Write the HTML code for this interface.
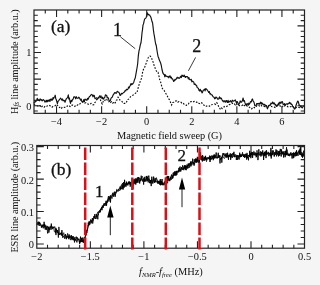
<!DOCTYPE html><html><head><meta charset="utf-8"><style>
html,body{margin:0;padding:0;background:#f5f5f5;width:320px;height:285px;overflow:hidden}
svg{display:block;filter:blur(0.3px)}
text{font-family:"Liberation Serif",serif;fill:#111}
</style></head><body>
<svg width="320" height="285" viewBox="0 0 320 285">
<rect x="34.0" y="10.0" width="270.5" height="103.35" fill="#fff"/>
<rect x="36.8" y="145.5" width="267.7" height="102.69999999999999" fill="#fff"/>

<polyline points="34.0,104.2 35.0,105.1 36.0,105.1 37.0,105.8 38.0,106.2 39.0,105.5 40.0,105.7 41.0,107.5 42.1,106.3 43.2,106.1 44.2,107.2 45.3,106.1 46.4,106.6 47.5,105.8 48.6,106.2 49.8,105.5 50.9,106.6 52.0,107.2 53.1,106.2 54.2,106.2 55.2,105.7 56.3,104.3 57.4,105.2 58.5,106.5 59.5,107.6 60.5,106.9 61.5,108.2 62.4,107.2 63.4,107.4 64.4,107.5 65.4,106.9 66.3,107.0 67.3,105.9 68.3,106.3 69.2,105.7 70.1,106.6 71.0,106.5 72.0,105.1 72.9,105.1 73.8,105.3 74.9,106.4 76.0,105.2 77.0,105.4 78.1,104.6 79.2,104.7 80.3,103.4 81.4,102.2 82.5,101.6 83.6,102.0 84.8,102.9 85.9,102.9 87.0,103.8 88.0,104.0 89.0,104.6 90.0,104.3 91.0,103.4 91.9,104.6 92.8,104.8 93.8,104.7 94.7,102.8 95.6,101.8 96.6,99.6 97.5,99.4 98.4,97.6 99.4,98.5 100.3,99.5 101.2,102.3 102.2,104.0 103.2,101.4 104.1,101.8 105.0,100.2 106.0,98.8 106.9,99.6 107.8,101.0 108.8,101.8 109.7,100.8 110.6,102.4 111.5,101.6 112.5,103.0 113.5,102.6 114.4,103.8 115.3,102.6 116.2,100.3 117.2,99.8 118.1,97.2 119.1,98.0 120.0,100.2 121.0,100.5 121.9,101.4 122.8,102.5 123.8,103.5 124.7,103.4 125.7,101.8 126.6,101.9 127.5,99.5 128.5,99.3 129.4,98.5 130.4,96.8 131.3,96.1 132.3,95.5 133.2,95.0 134.1,94.2 135.1,93.4 136.1,92.8 137.0,92.7 137.9,88.8 138.8,85.5 139.7,82.9 140.7,80.0 141.7,78.0 142.7,71.4 143.6,69.1 144.5,67.8 145.4,65.4 146.4,62.7 147.5,59.6 148.4,57.4 149.2,57.2 150.1,56.0 151.1,56.9 152.2,59.7 153.3,62.6 154.3,66.2 155.4,68.7 156.3,70.8 157.1,72.2 158.0,72.3 158.8,75.3 159.6,79.3 160.5,81.8 161.2,84.0 162.0,87.8 163.1,89.5 164.2,90.5 165.2,92.4 166.3,94.2 167.3,96.1 168.4,98.4 169.5,99.9 170.5,102.2 171.6,105.0 172.6,102.5 173.7,102.3 174.7,101.4 175.8,100.9 176.8,101.0 177.8,102.2 178.9,101.5 179.9,101.6 181.0,102.3 182.1,103.5 183.2,103.2 184.2,104.4 185.3,105.2 186.4,105.4 187.4,104.0 188.4,104.0 189.5,102.1 190.6,101.7 191.6,101.6 192.6,102.2 193.7,101.6 194.7,101.4 195.8,101.5 196.8,102.4 197.8,102.0 198.9,103.3 199.9,103.6 201.0,102.6 202.0,103.0 203.1,104.8 204.2,105.3 205.2,106.4 206.3,106.3 207.4,105.6 208.4,105.6 209.5,106.2 210.5,104.9 211.6,104.7 212.6,104.5 213.7,104.2 214.7,103.9 215.8,104.5 216.8,102.8 217.7,103.8 218.7,106.8 219.6,108.0 220.5,109.5 221.4,108.1 222.3,108.6 223.2,108.2 224.2,106.6 225.1,107.1 226.0,106.9 227.0,106.2 228.1,105.5 229.1,104.7 230.1,104.4 231.2,103.8 232.2,103.1 233.2,104.2 234.3,103.8 235.3,104.9 236.3,103.6 237.4,105.3 238.4,105.0 239.4,105.6 240.4,105.6 241.4,105.7 242.4,105.2 243.3,104.3 244.3,105.7 245.3,104.8 246.3,105.1 247.4,106.4 248.5,106.8 249.5,107.2 250.6,108.8 251.7,108.8 252.6,107.8 253.5,107.1 254.4,107.7 255.4,106.5 256.3,106.5 257.2,105.2 258.2,105.0 259.1,105.7 260.1,106.3 261.1,105.2 262.1,106.3 263.1,106.6 264.0,106.5 265.0,106.6 266.0,105.2 267.0,106.4 268.0,107.0 269.0,105.6 270.0,106.1 271.0,106.2 272.0,106.7 273.0,106.7 274.0,106.9 275.0,107.5 276.0,106.0 277.0,106.0 278.0,106.0 279.0,105.9 280.0,105.7 281.0,107.3 282.0,106.9 283.0,105.5 284.0,106.1 285.0,105.7 286.0,105.9 287.0,106.1 288.0,106.9 289.0,107.0 290.0,106.7 291.0,106.6 292.0,107.1 293.0,106.9 294.0,107.9 295.0,108.4 295.9,107.7 296.9,107.0 297.9,107.1 298.8,107.4 299.8,107.7 300.7,107.9 301.6,107.1 302.6,107.7 303.6,107.3 304.5,107.0" fill="none" stroke="#111" stroke-width="1.15" stroke-dasharray="1.7 1.5"/>
<polyline points="34.0,103.3 34.4,102.0 35.0,101.8 35.5,101.8 36.0,100.9 36.6,101.0 37.2,98.3 37.7,99.1 38.3,100.5 38.9,99.9 39.5,100.8 40.1,98.9 40.7,100.0 41.3,99.6 41.9,100.6 42.5,100.8 43.1,99.5 43.7,100.1 44.3,100.4 44.9,102.1 45.5,101.8 46.2,100.2 46.8,102.0 47.4,100.3 48.0,101.6 48.6,100.4 49.3,99.7 49.9,101.5 50.6,99.3 51.2,98.9 51.9,100.5 52.5,99.6 53.0,97.6 53.5,98.8 54.1,97.2 54.7,97.0 55.2,95.2 55.8,98.8 56.3,99.7 56.9,102.1 57.4,103.5 58.0,101.3 58.7,100.8 59.3,99.7 60.0,98.9 60.6,98.1 61.2,99.0 61.9,100.1 62.5,98.9 63.1,100.9 63.7,100.3 64.4,100.6 65.0,102.2 65.7,100.3 66.3,98.8 67.0,98.1 67.6,97.6 68.3,94.8 68.8,98.9 69.4,98.0 70.0,101.5 70.5,103.4 71.2,100.4 71.8,101.5 72.5,99.5 73.1,99.2 73.8,96.8 74.4,96.8 75.0,97.0 75.6,98.8 76.3,96.7 76.9,98.0 77.5,98.3 78.1,98.1 78.7,97.2 79.4,97.9 80.0,98.9 80.6,100.2 81.2,99.1 81.9,101.4 82.5,102.2 83.1,102.0 83.8,99.6 84.4,101.6 85.0,99.1 85.6,99.4 86.3,99.8 86.9,100.3 87.5,98.3 88.1,99.3 88.7,97.9 89.3,96.8 90.0,96.3 90.6,95.4 91.2,94.7 91.8,94.4 92.4,95.3 93.0,96.8 93.7,95.2 94.3,95.6 95.0,98.7 95.6,98.2 96.1,98.1 96.6,97.8 97.2,98.4 97.8,98.7 98.4,97.4 99.1,97.0 99.7,95.8 100.3,97.7 100.9,95.8 101.4,97.3 102.0,98.6 102.5,97.2 103.1,99.1 103.7,99.0 104.3,97.6 104.8,97.3 105.4,94.9 106.0,95.1 106.6,95.2 107.2,97.9 107.8,97.3 108.5,98.5 109.1,100.8 109.7,101.2 110.3,100.6 111.0,98.3 111.6,97.5 112.2,97.2 112.9,95.6 113.5,94.2 114.1,93.8 114.7,92.5 115.3,92.5 116.0,93.5 116.6,92.8 117.2,91.3 117.8,91.7 118.3,92.1 118.9,92.2 119.4,93.4 120.0,95.4 120.6,95.2 121.3,93.4 121.9,94.0 122.5,93.5 123.2,92.9 123.8,92.3 124.4,92.1 125.0,90.6 125.7,91.0 126.3,89.4 126.9,89.4 127.5,89.7 128.1,88.8 128.6,87.0 129.2,87.9 129.7,86.4 130.3,85.5 130.9,83.7 131.5,84.7 132.0,83.5 132.6,84.2 133.2,83.3 133.8,82.2 134.5,79.7 135.2,78.1 135.8,74.9 136.4,71.4 137.1,67.5 137.7,63.5 138.3,55.9 139.0,50.9 139.7,48.2 140.3,44.9 141.0,42.8 141.5,38.5 142.0,33.0 142.5,29.6 143.0,25.1 143.6,23.6 144.2,20.6 144.8,18.7 145.4,18.5 146.0,17.8 146.7,16.0 147.3,12.8 147.9,14.6 148.6,14.3 149.2,15.1 149.7,15.0 150.2,16.1 150.8,17.0 151.4,19.1 152.1,21.8 152.6,23.0 153.0,26.4 153.4,30.0 153.9,33.4 154.6,37.3 155.2,41.5 155.8,44.3 156.3,45.8 156.9,49.9 157.4,53.0 158.0,56.2 158.7,58.0 159.3,60.1 159.9,61.3 160.6,62.9 161.3,65.5 162.0,69.5 162.7,72.3 163.2,73.7 163.8,74.4 164.3,74.3 164.8,76.8 165.4,74.8 166.1,76.2 166.7,76.2 167.4,76.8 168.0,76.4 168.8,77.8 169.5,76.2 170.1,75.8 170.7,77.9 171.3,77.1 171.9,78.8 172.5,78.8 173.1,80.0 173.7,81.5 174.3,80.8 174.9,79.4 175.5,80.0 176.1,79.2 176.6,78.2 177.2,77.2 177.8,78.1 178.4,77.6 179.0,78.3 179.6,78.2 180.2,77.1 180.7,76.3 181.3,77.6 181.9,75.2 182.5,75.3 183.0,76.4 183.6,76.4 184.2,75.1 184.8,76.6 185.4,77.5 186.0,76.4 186.6,76.8 187.1,76.5 187.7,76.9 188.3,78.9 188.9,77.6 189.5,79.4 190.1,79.9 190.7,79.6 191.3,79.4 191.9,81.9 192.5,81.2 193.1,81.6 193.7,81.9 194.3,84.5 194.9,84.0 195.5,84.3 196.1,85.6 196.6,85.5 197.2,87.6 197.8,87.9 198.4,88.4 199.0,90.4 199.6,91.0 200.2,89.3 200.8,91.0 201.4,90.8 202.0,92.9 202.6,92.1 203.2,90.3 203.8,89.9 204.5,89.1 205.1,90.9 205.7,88.6 206.3,89.0 206.9,89.4 207.5,90.6 208.1,91.2 208.7,92.4 209.3,91.5 209.9,93.9 210.5,93.5 211.1,94.7 211.7,94.8 212.3,95.3 212.9,96.5 213.5,96.9 214.1,97.2 214.7,98.8 215.3,98.4 215.9,97.0 216.5,97.5 217.1,98.0 217.7,99.2 218.3,99.2 218.9,98.3 219.5,96.9 220.1,98.8 220.7,97.9 221.3,98.3 222.1,100.0 222.8,101.1 223.4,100.9 224.0,102.1 224.6,100.8 225.2,100.9 225.7,102.2 226.3,100.6 226.9,101.0 227.5,102.5 228.1,100.4 228.7,102.4 229.3,101.9 229.9,101.2 230.5,100.7 231.1,102.0 231.7,102.2 232.3,100.2 232.9,101.0 233.5,101.1 234.1,100.9 234.7,100.4 235.3,99.9 235.9,101.6 236.5,102.9 237.2,101.5 237.8,102.6 238.4,104.7 239.0,104.1 239.6,103.2 240.2,100.9 240.8,102.1 241.3,102.2 241.9,101.7 242.5,100.3 243.1,98.0 243.7,101.2 244.4,100.7 245.0,102.9 245.7,104.8 246.3,105.3 246.9,103.6 247.5,103.8 248.2,105.3 248.8,103.1 249.4,104.2 250.0,102.9 250.6,101.5 251.3,101.9 251.9,99.6 252.5,99.0 253.1,101.1 253.7,101.6 254.2,103.0 254.8,105.7 255.4,105.8 256.0,105.9 256.6,103.6 257.1,104.1 257.7,103.5 258.3,104.0 258.9,103.4 259.5,104.2 260.1,102.9 260.7,102.2 261.3,104.0 261.9,102.7 262.5,104.1 263.1,103.9 263.7,105.1 264.3,104.3 264.9,105.3 265.5,105.1 266.2,106.7 266.8,106.7 267.4,108.8 268.0,107.5 268.5,105.8 269.1,105.4 269.7,105.1 270.3,105.3 270.9,103.2 271.4,103.9 272.0,103.1 272.6,102.0 273.2,103.9 273.8,102.8 274.4,103.3 275.0,104.9 275.6,104.3 276.2,106.4 276.8,105.7 277.4,104.9 277.9,105.6 278.5,103.1 279.1,104.4 279.7,102.2 280.2,102.0 280.8,103.6 281.4,102.4 282.0,101.6 282.5,101.8 283.1,104.5 283.6,104.1 284.2,104.9 284.7,103.6 285.3,105.3 285.9,104.4 286.5,103.8 287.1,103.8 287.7,104.3 288.4,103.3 289.0,103.2 289.6,102.3 290.2,103.8 290.8,103.1 291.4,104.5 292.1,104.6 292.8,106.7 293.4,106.9 294.1,108.1 294.7,109.1 295.3,108.1 295.9,105.8 296.6,103.7 297.2,102.1 297.8,101.1 298.4,101.8 299.1,105.1 299.7,105.1 300.4,106.9 301.0,106.0 301.6,107.0 302.2,107.8 302.8,106.9 303.3,106.1 303.9,106.0 304.5,105.8" fill="none" stroke="#111" stroke-width="1.15" stroke-linejoin="round"/>
<polyline points="37.00,223.7 37.29,223.2 37.59,223.2 37.88,223.3 38.18,221.7 38.47,225.3 38.77,223.3 39.06,221.8 39.36,225.1 39.65,222.2 39.94,225.8 40.24,223.4 40.53,224.4 40.83,225.0 41.12,224.7 41.42,227.5 41.71,226.0 42.01,225.7 42.30,225.3 42.60,226.8 42.90,224.5 43.20,225.2 43.50,224.7 43.80,226.4 44.10,221.8 44.40,226.1 44.70,224.1 45.00,227.8 45.30,225.5 45.60,226.6 45.90,225.6 46.20,229.5 46.50,229.3 46.80,227.5 47.10,225.9 47.40,231.4 47.70,233.4 48.00,230.7 48.30,226.8 48.60,228.6 48.90,232.6 49.20,228.0 49.50,230.2 49.80,228.1 50.10,227.9 50.40,226.8 50.70,228.4 51.00,229.8 51.30,223.6 51.60,227.0 51.90,226.7 52.20,229.2 52.50,227.8 52.80,226.7 53.11,227.8 53.43,227.8 53.74,227.3 54.06,227.8 54.37,227.2 54.69,226.6 55.00,228.2 55.30,230.0 55.60,233.2 55.90,227.9 56.20,230.7 56.50,229.0 56.80,231.9 57.10,232.3 57.40,232.5 57.70,230.0 58.00,233.0 58.30,232.8 58.60,235.1 58.90,232.8 59.20,234.9 59.50,234.2 59.80,234.7 60.10,233.0 60.40,233.9 60.70,234.0 61.00,233.7 61.30,232.5 61.60,235.5 61.90,230.1 62.20,233.2 62.50,234.0 62.80,237.8 63.10,236.2 63.40,236.7 63.70,236.2 64.00,235.9 64.30,236.5 64.60,238.7 64.90,238.2 65.20,236.7 65.50,234.1 65.80,235.1 66.10,235.2 66.40,239.2 66.70,238.2 67.00,236.0 67.30,236.3 67.60,237.5 67.90,237.2 68.20,236.1 68.50,235.8 68.80,239.2 69.10,234.4 69.40,238.0 69.70,237.6 70.00,235.8 70.30,239.7 70.60,239.8 70.90,240.1 71.20,237.8 71.50,235.3 71.80,239.4 72.10,237.8 72.40,236.6 72.70,239.3 73.00,239.3 73.30,240.3 73.60,238.9 73.90,239.4 74.20,237.8 74.50,242.4 74.80,238.9 75.10,240.3 75.40,238.9 75.70,240.6 76.00,240.4 76.30,240.7 76.60,240.4 76.90,242.4 77.20,237.3 77.50,238.9 77.80,239.4 78.10,239.9 78.40,239.1 78.70,239.5 79.00,238.8 79.30,240.8 79.60,243.7 79.90,240.7 80.20,241.8 80.49,236.6 80.78,238.7 81.07,240.0 81.36,241.7 81.65,238.1 81.95,239.4 82.24,237.5 82.53,242.0 82.82,239.8 83.11,240.5 83.40,241.5 83.70,242.8 84.00,237.6 84.30,242.0 84.60,237.2 84.90,237.6 85.20,238.6 85.50,231.8 85.81,233.9 86.12,235.4 86.43,230.8 86.74,232.3 87.05,232.8 87.36,228.6 87.67,228.8 87.98,227.2 88.29,222.5 88.60,225.9 88.89,222.1 89.18,221.2 89.47,222.0 89.76,224.5 90.05,222.3 90.35,221.1 90.64,219.5 90.93,219.7 91.22,223.3 91.51,220.4 91.80,220.6 92.10,219.7 92.40,218.0 92.70,223.5 93.00,220.9 93.30,220.9 93.60,218.4 93.90,216.1 94.20,218.3 94.50,217.2 94.80,214.2 95.10,218.6 95.40,218.6 95.70,217.9 96.00,219.0 96.30,213.9 96.60,217.1 96.90,215.9 97.20,215.3 97.50,216.3 97.80,219.3 98.10,214.4 98.40,215.2 98.70,211.9 99.00,212.2 99.30,211.2 99.60,212.5 99.90,211.7 100.20,211.4 100.50,208.8 100.80,209.8 101.10,209.8 101.40,209.5 101.70,207.0 102.00,210.2 102.30,205.7 102.60,207.5 102.90,205.9 103.20,207.8 103.51,204.5 103.81,205.6 104.12,203.2 104.42,204.5 104.72,204.7 105.03,204.2 105.33,204.0 105.64,203.0 105.94,205.9 106.24,202.0 106.55,205.5 106.85,202.5 107.16,200.6 107.46,202.5 107.76,200.0 108.07,200.3 108.37,197.7 108.68,198.5 108.98,201.6 109.28,197.7 109.59,199.5 109.89,196.2 110.20,195.8 110.50,202.5 110.80,197.0 111.09,196.5 111.39,197.7 111.69,198.1 111.98,198.6 112.28,196.9 112.58,194.9 112.87,193.4 113.17,195.3 113.47,195.7 113.76,196.8 114.06,195.4 114.36,191.7 114.65,191.9 114.95,193.9 115.25,196.7 115.55,193.6 115.84,193.2 116.14,191.4 116.44,191.5 116.73,189.4 117.03,189.5 117.33,189.9 117.62,190.4 117.92,191.6 118.22,191.3 118.51,189.5 118.81,188.9 119.11,189.5 119.40,190.4 119.70,190.8 120.01,190.2 120.31,186.7 120.62,189.6 120.92,189.1 121.23,185.5 121.53,184.6 121.84,184.9 122.14,189.0 122.45,183.2 122.75,184.2 123.06,189.6 123.36,186.6 123.67,182.1 123.97,187.8 124.28,185.5 124.58,179.8 124.89,185.9 125.19,184.7 125.50,184.7 125.80,183.3 126.09,186.6 126.39,181.6 126.68,185.0 126.98,183.4 127.27,184.4 127.57,184.0 127.86,185.5 128.16,182.0 128.45,181.6 128.75,184.1 129.05,183.1 129.34,183.0 129.64,184.2 129.93,181.8 130.23,186.7 130.52,183.9 130.82,182.5 131.11,182.2 131.41,182.2 131.70,182.6 132.00,183.0 132.30,182.5 132.59,182.0 132.89,189.1 133.19,185.0 133.48,182.2 133.78,182.5 134.07,179.0 134.37,182.2 134.67,180.1 134.96,183.6 135.26,178.4 135.56,183.0 135.85,184.5 136.15,181.3 136.44,178.8 136.74,178.5 137.04,180.9 137.33,177.4 137.63,177.5 137.93,182.9 138.22,180.2 138.52,177.0 138.81,177.5 139.11,181.1 139.41,180.6 139.70,183.5 140.00,178.5 140.30,181.3 140.61,179.4 140.91,180.3 141.21,175.7 141.52,179.1 141.82,180.3 142.12,180.5 142.42,181.4 142.73,178.6 143.03,179.0 143.33,180.0 143.64,184.6 143.94,178.4 144.24,177.7 144.55,181.7 144.85,176.8 145.15,180.2 145.45,181.2 145.76,181.2 146.06,181.0 146.36,176.0 146.67,179.7 146.97,175.9 147.27,179.9 147.58,180.6 147.88,178.9 148.18,182.4 148.48,177.4 148.79,175.6 149.09,177.8 149.39,181.3 149.70,183.2 150.00,180.0 150.30,181.0 150.61,183.3 150.91,180.0 151.21,186.1 151.52,178.8 151.82,176.7 152.12,179.0 152.42,181.5 152.73,183.6 153.03,183.5 153.33,179.8 153.64,176.6 153.94,178.1 154.24,180.0 154.55,182.2 154.85,182.9 155.15,178.1 155.45,180.6 155.76,182.0 156.06,179.4 156.36,177.7 156.67,178.6 156.97,180.1 157.27,180.0 157.58,182.0 157.88,183.6 158.18,181.2 158.48,183.4 158.79,182.3 159.09,181.0 159.39,183.8 159.70,181.7 160.00,185.0 160.29,179.1 160.59,185.3 160.88,181.3 161.18,182.4 161.47,180.9 161.76,184.9 162.06,179.0 162.35,185.2 162.65,182.5 162.94,183.8 163.24,184.4 163.53,184.1 163.82,185.3 164.12,182.8 164.41,181.7 164.71,184.6 165.00,184.0 165.30,180.5 165.61,181.0 165.91,182.4 166.22,176.7 166.52,179.4 166.83,181.2 167.13,180.5 167.43,176.0 167.74,180.5 168.04,180.8 168.35,180.2 168.65,176.0 168.96,179.8 169.26,178.8 169.57,180.4 169.87,181.1 170.17,178.4 170.48,176.9 170.78,179.7 171.09,175.8 171.39,176.3 171.70,174.5 172.00,177.5 172.30,178.4 172.60,175.7 172.90,178.2 173.20,172.8 173.50,176.2 173.80,174.5 174.10,172.0 174.40,175.3 174.70,172.3 175.00,171.6 175.30,174.6 175.60,172.8 175.90,175.9 176.20,170.8 176.50,171.1 176.80,174.9 177.10,172.2 177.40,171.5 177.70,171.2 178.00,171.6 178.30,170.2 178.61,172.4 178.91,167.9 179.22,171.2 179.52,167.3 179.83,167.1 180.13,166.6 180.43,171.0 180.74,171.5 181.04,171.1 181.35,167.1 181.65,168.3 181.96,169.2 182.26,169.6 182.57,165.3 182.87,165.7 183.17,166.9 183.48,167.3 183.78,170.2 184.09,167.1 184.39,165.9 184.70,166.8 185.00,168.7 185.29,166.1 185.59,169.8 185.88,166.1 186.18,170.2 186.47,167.9 186.76,165.5 187.06,164.5 187.35,165.2 187.65,168.6 187.94,168.5 188.24,163.5 188.53,165.8 188.82,164.5 189.12,163.6 189.41,167.6 189.71,167.4 190.00,166.3 190.29,165.3 190.59,161.7 190.88,164.7 191.18,161.4 191.47,163.1 191.76,164.7 192.06,163.6 192.35,162.9 192.65,158.7 192.94,159.5 193.24,164.3 193.53,162.6 193.82,164.0 194.12,165.7 194.41,159.3 194.71,159.3 195.00,162.0 195.29,160.5 195.59,158.5 195.88,162.2 196.18,162.9 196.47,158.7 196.76,161.9 197.06,162.3 197.35,156.8 197.65,161.7 197.94,157.3 198.24,162.1 198.53,163.0 198.82,162.2 199.12,159.4 199.41,162.9 199.71,155.7 200.00,159.4 200.29,153.5 200.59,152.4 200.88,158.5 201.18,156.6 201.47,160.2 201.76,158.5 202.06,155.7 202.35,161.5 202.65,155.5 202.94,158.4 203.24,158.2 203.53,158.5 203.82,159.4 204.12,160.9 204.41,156.8 204.71,158.4 205.00,158.9 205.29,158.2 205.59,155.8 205.88,159.8 206.18,159.6 206.47,157.7 206.76,160.1 207.06,158.6 207.35,157.5 207.65,157.9 207.94,158.7 208.24,158.3 208.53,158.4 208.82,159.2 209.12,157.0 209.41,158.3 209.71,155.6 210.00,162.0 210.29,159.2 210.59,156.5 210.88,159.8 211.18,157.6 211.47,159.2 211.76,157.3 212.06,155.4 212.35,156.6 212.65,158.7 212.94,156.2 213.24,160.2 213.53,157.7 213.82,154.7 214.12,158.3 214.41,157.1 214.71,154.5 215.00,158.3 215.29,158.1 215.59,155.9 215.88,155.0 216.18,152.5 216.47,154.4 216.76,154.2 217.06,158.6 217.35,157.8 217.65,157.0 217.94,157.3 218.24,152.8 218.53,156.6 218.82,157.9 219.12,155.2 219.41,155.7 219.71,158.2 220.00,163.4 220.30,158.3 220.61,159.6 220.91,157.9 221.21,158.9 221.52,157.3 221.82,162.6 222.12,157.8 222.42,157.8 222.73,155.3 223.03,153.1 223.33,154.8 223.64,153.9 223.94,153.1 224.24,156.1 224.55,156.2 224.85,154.3 225.15,154.4 225.45,153.7 225.76,156.2 226.06,155.0 226.36,154.7 226.67,157.5 226.97,153.1 227.27,155.4 227.58,157.3 227.88,154.9 228.18,156.7 228.48,159.8 228.79,155.2 229.09,155.7 229.39,155.2 229.70,156.5 230.00,154.1 230.30,153.3 230.61,159.8 230.91,158.4 231.21,154.7 231.52,153.9 231.82,156.0 232.12,157.8 232.42,153.8 232.73,153.4 233.03,154.5 233.33,152.9 233.64,154.9 233.94,151.8 234.24,157.1 234.55,157.0 234.85,155.9 235.15,155.9 235.45,156.1 235.76,156.5 236.06,155.9 236.36,160.0 236.67,155.9 236.97,155.7 237.27,157.7 237.58,159.8 237.88,155.0 238.18,156.3 238.48,158.3 238.79,157.8 239.09,159.6 239.39,157.9 239.70,152.7 240.00,157.2 240.30,154.3 240.61,156.9 240.91,156.2 241.21,154.7 241.52,156.7 241.82,154.5 242.12,155.1 242.42,155.2 242.73,155.2 243.03,154.2 243.33,156.4 243.64,156.9 243.94,154.5 244.24,154.2 244.55,157.0 244.85,155.6 245.15,154.0 245.45,153.8 245.76,156.6 246.06,157.2 246.36,155.8 246.67,159.6 246.97,152.9 247.27,155.2 247.58,158.2 247.88,156.9 248.18,157.6 248.48,160.3 248.79,155.4 249.09,156.0 249.39,157.0 249.70,150.8 250.00,156.1 250.29,152.7 250.57,156.2 250.86,158.2 251.14,153.5 251.43,153.1 251.71,155.0 252.00,152.8 252.30,152.0 252.59,157.9 252.89,154.0 253.19,154.4 253.48,153.8 253.78,151.4 254.07,151.6 254.37,154.0 254.67,154.7 254.96,152.4 255.26,152.6 255.56,154.2 255.85,154.2 256.15,157.3 256.44,156.9 256.74,153.8 257.04,153.1 257.33,154.4 257.63,154.6 257.93,160.1 258.22,157.6 258.52,151.7 258.81,149.3 259.11,151.8 259.41,154.8 259.70,154.7 260.00,155.1 260.30,152.2 260.61,151.4 260.91,156.5 261.21,153.9 261.52,151.9 261.82,155.7 262.12,155.3 262.42,153.7 262.73,150.4 263.03,153.6 263.33,154.2 263.64,160.0 263.94,152.7 264.24,155.0 264.55,151.8 264.85,155.3 265.15,152.9 265.45,154.6 265.76,151.3 266.06,158.1 266.36,150.2 266.67,154.5 266.97,153.7 267.27,154.0 267.58,153.2 267.88,153.2 268.18,152.7 268.48,152.5 268.79,156.2 269.09,155.0 269.39,152.8 269.70,153.8 270.00,154.5 270.30,155.8 270.61,151.8 270.91,147.9 271.21,158.5 271.52,153.8 271.82,154.6 272.12,150.3 272.42,152.3 272.73,155.2 273.03,151.3 273.33,150.5 273.64,152.4 273.94,153.8 274.24,156.6 274.55,154.5 274.85,152.1 275.15,152.4 275.45,151.8 275.76,152.0 276.06,152.0 276.36,153.9 276.67,150.6 276.97,150.1 277.27,152.4 277.58,153.4 277.88,155.2 278.18,151.0 278.48,156.4 278.79,154.8 279.09,153.0 279.39,150.8 279.70,155.7 280.00,152.6 280.30,148.9 280.61,151.0 280.91,151.9 281.21,156.5 281.52,149.4 281.82,152.7 282.12,152.5 282.42,154.0 282.73,152.1 283.03,154.3 283.33,153.6 283.64,157.5 283.94,151.1 284.24,152.5 284.55,153.9 284.85,153.6 285.15,157.2 285.45,150.8 285.76,155.2 286.06,152.4 286.36,154.6 286.67,154.6 286.97,149.6 287.27,153.6 287.58,153.7 287.88,154.1 288.18,155.9 288.48,154.8 288.79,155.4 289.09,153.9 289.39,154.4 289.70,153.9 290.00,155.5 290.30,155.0 290.60,154.3 290.89,152.3 291.19,155.5 291.49,153.7 291.79,154.1 292.09,158.5 292.38,154.7 292.68,153.3 292.98,152.9 293.28,158.2 293.57,152.5 293.87,157.5 294.17,155.4 294.47,153.2 294.77,155.7 295.06,153.9 295.36,151.8 295.66,154.1 295.96,155.5 296.26,154.7 296.55,150.3 296.85,155.2 297.15,152.4 297.45,154.3 297.74,153.7 298.04,153.1 298.34,151.3 298.64,151.3 298.94,152.8 299.23,149.8 299.53,154.4 299.83,150.3 300.13,148.4 300.43,154.9 300.72,146.3 301.02,151.2 301.32,151.8 301.62,156.3 301.91,156.7 302.21,153.3 302.51,157.7 302.81,154.4 303.11,155.3 303.40,156.4 303.70,150.7 304.00,154.0" fill="none" stroke="#000" stroke-width="0.9" stroke-linejoin="round"/>
<polyline points="37.00,225.1 37.48,223.8 37.96,222.5 38.45,224.2 38.93,224.1 39.41,225.4 39.89,224.7 40.37,224.7 40.85,225.2 41.34,225.9 41.82,227.6 42.30,225.4 42.78,226.3 43.27,228.3 43.75,225.8 44.24,224.8 44.72,227.6 45.21,229.5 45.69,227.6 46.18,229.8 46.66,227.3 47.15,227.3 47.63,226.9 48.12,226.7 48.60,228.6 49.12,227.4 49.65,228.5 50.17,225.9 50.70,226.2 51.23,227.6 51.75,227.6 52.27,228.1 52.80,227.5 53.35,226.8 53.90,229.4 54.45,231.9 55.00,232.0 55.48,231.5 55.97,235.1 56.45,231.8 56.94,230.4 57.42,231.8 57.91,231.9 58.39,237.6 58.88,226.9 59.36,232.4 59.85,233.1 60.33,233.1 60.82,234.7 61.30,234.4 61.78,233.9 62.27,235.9 62.75,235.5 63.24,233.4 63.72,232.7 64.21,235.2 64.69,236.4 65.18,234.8 65.66,236.3 66.15,238.6 66.63,236.3 67.12,237.5 67.60,233.4 68.08,235.4 68.57,237.9 69.05,238.0 69.54,237.7 70.02,235.6 70.51,237.5 70.99,238.4 71.48,238.5 71.96,238.5 72.45,236.5 72.93,239.7 73.42,236.3 73.90,239.0 74.38,237.6 74.87,237.2 75.35,237.4 75.84,238.7 76.32,236.6 76.81,239.6 77.29,240.2 77.78,240.4 78.26,238.6 78.75,239.6 79.23,241.8 79.72,243.4 80.20,242.9 80.73,239.9 81.27,242.1 81.80,241.3 82.33,242.0 82.87,242.2 83.40,242.1 83.93,239.8 84.45,238.9 84.97,237.0 85.50,235.9 86.02,233.0 86.53,230.0 87.05,230.9 87.57,228.8 88.08,225.2 88.60,226.2 89.13,223.9 89.67,224.6 90.20,222.4 90.73,221.5 91.27,222.1 91.80,220.3 92.29,219.9 92.78,219.8 93.27,219.0 93.76,218.9 94.25,217.7 94.75,216.2 95.24,216.3 95.73,217.4 96.22,217.3 96.71,217.1 97.20,214.1 97.72,212.0 98.24,211.9 98.75,211.8 99.27,211.9 99.79,210.0 100.31,212.3 100.83,209.1 101.35,208.2 101.86,207.4 102.38,207.6 102.90,205.6 103.41,206.0 103.91,205.4 104.42,205.9 104.93,203.1 105.43,204.2 105.94,200.8 106.45,202.9 106.95,201.2 107.46,200.6 107.97,198.9 108.47,196.0 108.98,198.6 109.49,197.2 109.99,197.8 110.50,195.4 111.01,197.4 111.52,195.9 112.03,194.3 112.54,193.8 113.06,192.6 113.57,195.8 114.08,193.9 114.59,194.6 115.10,191.9 115.61,193.4 116.12,193.3 116.63,190.6 117.14,191.2 117.66,190.8 118.17,189.9 118.68,189.0 119.19,189.0 119.70,188.1 120.18,186.6 120.67,188.0 121.15,188.0 121.63,189.1 122.12,187.8 122.60,185.5 123.08,186.7 123.57,187.4 124.05,186.2 124.53,186.1 125.02,186.8 125.50,185.0 126.00,184.9 126.50,182.8 127.00,184.2 127.50,183.4 128.00,184.2 128.50,182.1 129.00,183.5 129.50,181.5 130.00,184.5 130.50,182.3 131.00,183.6 131.50,185.2 132.00,183.9 132.50,181.6 133.00,184.4 133.50,180.6 134.00,181.6 134.50,181.9 135.00,184.3 135.50,181.7 136.00,180.3 136.50,182.8 137.00,179.1 137.50,182.2 138.00,178.8 138.50,178.4 139.00,177.7 139.50,178.9 140.00,179.3 140.50,179.2 141.00,178.7 141.50,177.8 142.00,177.0 142.50,176.4 143.00,178.2 143.50,178.6 144.00,180.4 144.50,179.9 145.00,180.5 145.50,179.5 146.00,181.4 146.50,180.8 147.00,180.9 147.50,177.1 148.00,179.5 148.50,179.7 149.00,179.9 149.50,179.5 150.00,180.5 150.50,182.2 151.00,179.9 151.50,179.9 152.00,180.3 152.50,182.6 153.00,181.9 153.50,178.6 154.00,180.1 154.50,182.5 155.00,181.2 155.50,180.6 156.00,180.6 156.50,181.2 157.00,182.6 157.50,181.2 158.00,183.3 158.50,182.0 159.00,180.5 159.50,180.9 160.00,181.4 160.50,183.0 161.00,183.3 161.50,182.9 162.00,183.7 162.50,184.0 163.00,184.0 163.50,183.5 164.00,184.1 164.50,182.1 165.00,182.5 165.50,181.4 166.00,180.4 166.50,179.0 167.00,181.3 167.50,183.3 168.00,180.5 168.50,178.9 169.00,180.5 169.50,180.9 170.00,178.7 170.50,177.5 171.00,178.9 171.50,179.5 172.00,177.1 172.50,178.3 173.00,175.2 173.50,175.5 174.00,175.3 174.50,175.4 175.00,171.2 175.50,174.3 176.00,174.9 176.50,171.0 177.00,173.2 177.50,171.3 178.00,171.6 178.50,170.4 179.00,171.7 179.50,170.3 180.00,171.3 180.50,169.4 181.00,169.8 181.50,167.7 182.00,168.9 182.50,169.8 183.00,168.2 183.50,168.2 184.00,169.1 184.50,165.2 185.00,168.5 185.50,165.3 186.00,167.2 186.50,167.8 187.00,165.4 187.50,165.5 188.00,167.9 188.50,167.3 189.00,166.3 189.50,163.8 190.00,162.8 190.50,166.0 191.00,165.9 191.50,166.1 192.00,163.7 192.50,162.5 193.00,162.1 193.50,162.7 194.00,163.8 194.50,164.3 195.00,161.1 195.50,160.5 196.00,162.3 196.50,160.8 197.00,159.8 197.50,161.1 198.00,160.5 198.50,159.4 199.00,158.7 199.50,156.9 200.00,158.0 200.50,159.2 201.00,157.9 201.50,159.0 202.00,157.6 202.50,155.3 203.00,156.7 203.50,160.1 204.00,160.4 204.50,158.2 205.00,159.7 205.50,157.4 206.00,160.2 206.50,161.6 207.00,158.9 207.50,157.7 208.00,157.7 208.50,157.3 209.00,159.0 209.50,157.7 210.00,160.2 210.50,156.7 211.00,156.8 211.50,156.0 212.00,156.2 212.50,157.0 213.00,156.0 213.50,157.0 214.00,156.2 214.50,158.3 215.00,156.4 215.50,155.9 216.00,155.3 216.50,157.9 217.00,157.0 217.50,157.3 218.00,157.6 218.50,155.5 219.00,155.1 219.50,156.4 220.00,155.7 220.50,155.9 221.00,157.7 221.50,158.2 222.00,156.6 222.50,154.8 223.00,157.3 223.50,157.3 224.00,158.4 224.50,158.4 225.00,157.2 225.50,155.5 226.00,157.5 226.50,155.7 227.00,155.5 227.50,152.7 228.00,154.9 228.50,157.5 229.00,155.5 229.50,156.7 230.00,154.5 230.50,155.9 231.00,157.0 231.50,154.5 232.00,156.5 232.50,157.3 233.00,157.0 233.50,155.9 234.00,154.7 234.50,157.1 235.00,154.2 235.50,154.7 236.00,156.5 236.50,155.1 237.00,155.0 237.50,156.4 238.00,155.7 238.50,157.2 239.00,155.6 239.50,155.1 240.00,156.0 240.50,156.9 241.00,157.0 241.50,155.7 242.00,155.5 242.50,152.3 243.00,155.6 243.50,156.8 244.00,155.0 244.50,157.9 245.00,156.0 245.50,156.3 246.00,157.4 246.50,154.1 247.00,158.2 247.50,156.5 248.00,154.9 248.50,155.8 249.00,155.1 249.50,156.7 250.00,156.7 250.50,154.8 251.00,156.5 251.50,151.9 252.00,153.1 252.50,152.8 253.00,154.8 253.50,153.7 254.00,155.3 254.50,154.3 255.00,155.6 255.50,155.2 256.00,153.3 256.50,157.0 257.00,150.3 257.50,154.7 258.00,153.0 258.50,154.3 259.00,154.8 259.50,155.4 260.00,154.6 260.50,154.9 261.00,153.9 261.50,153.2 262.00,154.0 262.50,153.2 263.00,154.0 263.50,155.1 264.00,153.0 264.50,156.2 265.00,154.1 265.50,155.4 266.00,153.5 266.50,154.1 267.00,153.9 267.50,154.3 268.00,151.8 268.50,153.6 269.00,153.9 269.50,153.9 270.00,154.1 270.50,152.9 271.00,156.5 271.50,153.5 272.00,152.7 272.50,153.2 273.00,153.0 273.50,152.9 274.00,154.4 274.50,156.0 275.00,152.3 275.50,154.8 276.00,149.3 276.50,156.4 277.00,153.1 277.50,153.9 278.00,152.4 278.50,152.6 279.00,151.6 279.50,154.5 280.00,153.1 280.50,153.7 281.00,154.0 281.50,152.4 282.00,151.0 282.50,154.1 283.00,153.9 283.50,152.3 284.00,153.5 284.50,154.8 285.00,154.1 285.50,155.2 286.00,155.3 286.50,147.2 287.00,155.1 287.50,153.6 288.00,152.9 288.50,155.1 289.00,154.1 289.50,156.2 290.00,153.4 290.50,153.5 291.00,153.6 291.50,154.6 292.00,154.3 292.50,153.6 293.00,153.2 293.50,156.4 294.00,154.7 294.50,154.3 295.00,153.4 295.50,156.3 296.00,155.3 296.50,156.1 297.00,153.5 297.50,154.3 298.00,156.0 298.50,154.0 299.00,152.6 299.50,151.9 300.00,154.5 300.50,153.0 301.00,155.2 301.50,152.7 302.00,154.2 302.50,153.2 303.00,154.6 303.50,153.9 304.00,154.0" fill="none" stroke="#000" stroke-width="0.8" stroke-linejoin="round"/>
<rect x="34.0" y="10.0" width="270.5" height="103.35" fill="none" stroke="#222" stroke-width="1.2"/>
<path d="M45.27 113.35V109.85M45.27 10.0V13.5M56.54 113.35V106.35M56.54 10.0V17.0M67.81 113.35V109.85M67.81 10.0V13.5M79.08 113.35V109.85M79.08 10.0V13.5M90.35 113.35V109.85M90.35 10.0V13.5M101.62 113.35V106.35M101.62 10.0V17.0M112.89 113.35V109.85M112.89 10.0V13.5M124.16 113.35V109.85M124.16 10.0V13.5M135.43 113.35V109.85M135.43 10.0V13.5M146.70 113.35V106.35M146.70 10.0V17.0M157.97 113.35V109.85M157.97 10.0V13.5M169.24 113.35V109.85M169.24 10.0V13.5M180.51 113.35V109.85M180.51 10.0V13.5M191.78 113.35V106.35M191.78 10.0V17.0M203.05 113.35V109.85M203.05 10.0V13.5M214.32 113.35V109.85M214.32 10.0V13.5M225.59 113.35V109.85M225.59 10.0V13.5M236.86 113.35V106.35M236.86 10.0V17.0M248.13 113.35V109.85M248.13 10.0V13.5M259.40 113.35V109.85M259.40 10.0V13.5M270.67 113.35V109.85M270.67 10.0V13.5M281.94 113.35V106.35M281.94 10.0V17.0M293.21 113.35V109.85M293.21 10.0V13.5M34.0 111.02H37.8M304.5 111.02H300.7M34.0 105.70H41.0M304.5 105.70H297.5M34.0 100.38H37.8M304.5 100.38H300.7M34.0 95.06H37.8M304.5 95.06H300.7M34.0 89.74H37.8M304.5 89.74H300.7M34.0 84.42H37.8M304.5 84.42H300.7M34.0 79.10H41.0M304.5 79.10H297.5M34.0 73.78H37.8M304.5 73.78H300.7M34.0 68.46H37.8M304.5 68.46H300.7M34.0 63.14H37.8M304.5 63.14H300.7M34.0 57.82H37.8M304.5 57.82H300.7M34.0 52.50H41.0M304.5 52.50H297.5M34.0 47.18H37.8M304.5 47.18H300.7M34.0 41.86H37.8M304.5 41.86H300.7M34.0 36.54H37.8M304.5 36.54H300.7M34.0 31.22H37.8M304.5 31.22H300.7M34.0 25.90H41.0M304.5 25.90H297.5M34.0 20.58H37.8M304.5 20.58H300.7M34.0 15.26H37.8M304.5 15.26H300.7" stroke="#222" stroke-width="1.1" fill="none"/>
<rect x="36.8" y="145.5" width="267.7" height="102.69999999999999" fill="none" stroke="#222" stroke-width="1.2"/>
<path d="M47.51 248.2V244.7M47.51 145.5V149.0M58.22 248.2V244.7M58.22 145.5V149.0M68.93 248.2V244.7M68.93 145.5V149.0M79.64 248.2V244.7M79.64 145.5V149.0M90.35 248.2V241.2M90.35 145.5V152.5M101.06 248.2V244.7M101.06 145.5V149.0M111.77 248.2V244.7M111.77 145.5V149.0M122.48 248.2V244.7M122.48 145.5V149.0M133.19 248.2V244.7M133.19 145.5V149.0M143.90 248.2V241.2M143.90 145.5V152.5M154.61 248.2V244.7M154.61 145.5V149.0M165.32 248.2V244.7M165.32 145.5V149.0M176.03 248.2V244.7M176.03 145.5V149.0M186.74 248.2V244.7M186.74 145.5V149.0M197.45 248.2V241.2M197.45 145.5V152.5M208.16 248.2V244.7M208.16 145.5V149.0M218.87 248.2V244.7M218.87 145.5V149.0M229.58 248.2V244.7M229.58 145.5V149.0M240.29 248.2V244.7M240.29 145.5V149.0M251.00 248.2V241.2M251.00 145.5V152.5M261.71 248.2V244.7M261.71 145.5V149.0M272.42 248.2V244.7M272.42 145.5V149.0M283.13 248.2V244.7M283.13 145.5V149.0M293.84 248.2V244.7M293.84 145.5V149.0M36.8 244.00H43.8M304.5 244.00H297.5M36.8 237.51H40.599999999999994M304.5 237.51H300.7M36.8 231.02H40.599999999999994M304.5 231.02H300.7M36.8 224.53H40.599999999999994M304.5 224.53H300.7M36.8 218.04H40.599999999999994M304.5 218.04H300.7M36.8 211.55H43.8M304.5 211.55H297.5M36.8 205.06H40.599999999999994M304.5 205.06H300.7M36.8 198.57H40.599999999999994M304.5 198.57H300.7M36.8 192.08H40.599999999999994M304.5 192.08H300.7M36.8 185.59H40.599999999999994M304.5 185.59H300.7M36.8 179.10H43.8M304.5 179.10H297.5M36.8 172.61H40.599999999999994M304.5 172.61H300.7M36.8 166.12H40.599999999999994M304.5 166.12H300.7M36.8 159.63H40.599999999999994M304.5 159.63H300.7M36.8 153.14H40.599999999999994M304.5 153.14H300.7M36.8 146.65H43.8M304.5 146.65H297.5" stroke="#222" stroke-width="1.1" fill="none"/>
<line x1="85.2" y1="147.5" x2="85.2" y2="249.5" stroke="#da1019" stroke-width="2.5" stroke-dasharray="12.4 2.6"/>
<line x1="132.3" y1="147.5" x2="132.3" y2="249.5" stroke="#da1019" stroke-width="2.5" stroke-dasharray="12.4 2.6"/>
<line x1="165.8" y1="147.5" x2="165.8" y2="249.5" stroke="#da1019" stroke-width="2.5" stroke-dasharray="12.4 2.6"/>
<line x1="199.5" y1="147.5" x2="199.5" y2="249.5" stroke="#da1019" stroke-width="2.5" stroke-dasharray="12.4 2.6"/>
<path d="M120.4 36.8L135.2 48.7M195.6 57.4L188.4 70.8" stroke="#333" stroke-width="0.95" fill="none"/>
<path d="M110.3 217L110.3 235.2M182 189L182 207.2" stroke="#222" stroke-width="1" fill="none"/>
<path d="M110.3 205.6L107.2 217.6L113.6 217.6Z M182 177.4L178.9 189.6L185.2 189.6Z" fill="#000"/>
<g font-size="10.4" text-anchor="middle">
<text x="56.5" y="125">−4</text>
<text x="101.6" y="125">−2</text>
<text x="146.7" y="125">0</text>
<text x="191.8" y="125">2</text>
<text x="236.9" y="125">4</text>
<text x="281.9" y="125">6</text>
<text x="36.8" y="260">−2</text>
<text x="90.3" y="260">−1.5</text>
<text x="143.9" y="260">−1</text>
<text x="197.4" y="260">−0.5</text>
<text x="251.0" y="260">0</text>
<text x="304.6" y="260">0.5</text>
</g>
<g font-size="10.4" text-anchor="end">
<text x="31.5" y="109.8">0</text><text x="31.5" y="56.4">1</text>
<text x="34" y="248.4">0</text>
<text x="34" y="216.0">0.1</text>
<text x="34" y="183.5">0.2</text>
<text x="34" y="151.1">0.3</text>
</g>
<text x="117" y="139" font-size="10.4" textLength="105" lengthAdjust="spacing">Magnetic field sweep (G)</text>
<text x="139" y="275" font-size="10.4"><tspan font-style="italic">f</tspan><tspan font-size="6.5" font-style="italic" dy="1.5">NMR</tspan><tspan dy="-1.5">-</tspan><tspan font-style="italic">f</tspan><tspan font-size="6.5" font-style="italic" dy="1.5">free</tspan><tspan dy="-1.5"> (MHz)</tspan></text>
<text transform="translate(17.6 114.0) rotate(-90)" font-size="10.25" textLength="104.6" lengthAdjust="spacing">H<tspan font-size="7.4" font-style="italic" dy="1.2">fs</tspan><tspan dy="-1.2"> line amplitude (arb.u.)</tspan></text>
<text transform="translate(17.6 252.6) rotate(-90)" font-size="10.25" textLength="110.8" lengthAdjust="spacing">ESR line amplitude (arb.u.)</text>
<text x="51" y="32" font-size="17.5" stroke="#111" stroke-width="0.3">(a)</text>
<text x="50.9" y="174.7" font-size="17.5" stroke="#111" stroke-width="0.3">(b)</text>
<text x="113" y="36.2" font-size="18" stroke="#111" stroke-width="0.3">1</text>
<text x="192.3" y="51.9" font-size="18" stroke="#111" stroke-width="0.25">2</text>
<text x="94.9" y="196.6" font-size="17" stroke="#111" stroke-width="0.3">1</text>
<text x="177.4" y="161.1" font-size="17" stroke="#111" stroke-width="0.25">2</text>
</svg></body></html>
